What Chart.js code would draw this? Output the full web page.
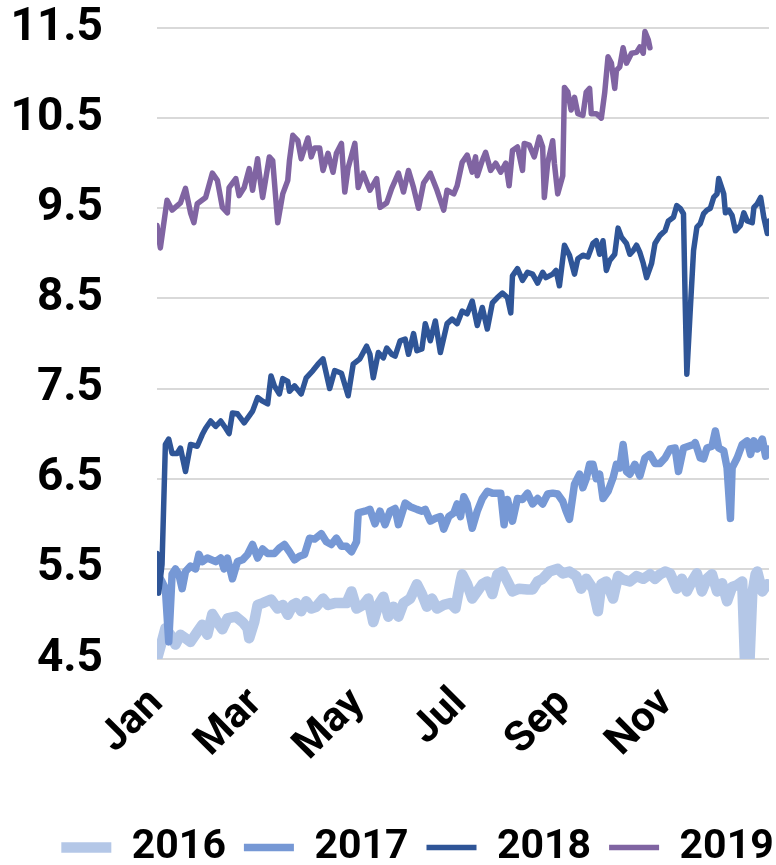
<!DOCTYPE html>
<html>
<head>
<meta charset="utf-8">
<script src="https://cdn.jsdelivr.net/npm/chart.js@4/dist/chart.umd.min.js"></script>
<style>
html,body{margin:0;padding:0;background:#fff;overflow:hidden;}
canvas{display:block;}
</style>
</head>
<body>
<canvas id="c" width="776" height="865"></canvas>
<script>
// ---- data (x = day of year, y = value) ----
const seriesLabels = ['2016', '2017', '2018', '2019'];
const seriesColors = ['#B4C7E7', '#7698D5', '#2F5597', '#8064A2'];

const tickDays = [0, 59, 120, 181, 243, 304];
const tickLabels = ['Jan', 'Mar', 'May', 'Jul', 'Sep', 'Nov'];

const days2016 = [0,3,5,8,11,14,17,20,24,27,30,33,36,39,42,47,51,54,55,58,60,63,68,72,75,78,81,83,86,89,92,95,99,102,106,110,113,116,119,123,126,129,132,135,138,141,144,147,151,155,158,161,164,167,171,175,178,181,182,185,188,191,194,197,200,203,206,209,212,216,221,224,227,230,234,239,242,246,250,253,256,260,263,265,268,272,275,278,282,286,290,294,297,300,303,306,310,313,316,319,322,325,328,331,334,337,340,343,346,349,351,353,355,357,358,361,364];
const vals2016 = [4.50,4.70,4.84,4.77,4.66,4.77,4.73,4.69,4.80,4.88,4.77,5.00,4.91,4.83,4.95,4.97,4.91,4.84,4.73,4.91,5.10,5.12,5.16,5.06,5.10,4.99,5.10,5.12,5.03,5.14,5.06,5.08,5.17,5.10,5.12,5.12,5.12,5.25,5.06,5.10,5.17,4.91,5.10,5.19,4.97,5.08,4.97,5.12,5.17,5.33,5.22,5.08,5.17,5.06,5.10,5.12,5.06,5.36,5.44,5.33,5.17,5.25,5.33,5.36,5.22,5.44,5.47,5.36,5.25,5.28,5.27,5.27,5.36,5.39,5.47,5.50,5.45,5.47,5.42,5.28,5.39,5.28,5.03,5.33,5.36,5.17,5.42,5.38,5.36,5.42,5.39,5.44,5.39,5.44,5.47,5.45,5.28,5.39,5.25,5.36,5.45,5.25,5.39,5.44,5.25,5.34,5.14,5.30,5.32,5.36,4.30,4.30,5.22,5.44,5.47,5.25,5.33];

const days2017 = [0,3,5,7,9,11,13,15,17,20,23,25,27,30,35,38,40,42,45,48,51,54,57,60,63,66,70,73,76,79,82,85,88,91,94,98,101,104,107,110,113,116,119,120,124,127,130,133,136,139,142,144,148,151,155,158,160,163,166,169,171,174,177,179,181,183,185,188,191,194,197,200,205,207,209,212,215,218,221,224,227,230,233,236,239,242,244,246,249,252,254,256,258,260,262,264,266,269,272,274,276,278,280,282,285,288,291,294,297,300,303,306,309,311,314,317,320,321,324,326,328,331,333,335,338,340,342,343,346,349,352,354,356,358,361,363,364];
const vals2017 = [5.45,5.36,5.28,4.69,5.44,5.50,5.44,5.28,5.47,5.53,5.50,5.66,5.58,5.62,5.58,5.62,5.50,5.62,5.39,5.58,5.60,5.66,5.77,5.62,5.72,5.67,5.67,5.73,5.77,5.69,5.60,5.64,5.66,5.84,5.83,5.89,5.80,5.77,5.84,5.75,5.75,5.69,5.80,6.12,6.14,6.16,6.00,6.14,5.99,6.14,6.17,5.99,6.23,6.19,6.16,6.14,6.16,6.03,6.06,6.08,5.94,6.08,6.12,6.22,6.08,6.30,6.22,5.95,6.14,6.28,6.36,6.34,6.34,5.99,6.27,6.03,6.28,6.27,6.34,6.22,6.28,6.22,6.33,6.34,6.33,6.25,6.14,6.05,6.44,6.55,6.40,6.50,6.66,6.66,6.50,6.55,6.28,6.36,6.51,6.66,6.62,6.88,6.58,6.55,6.66,6.53,6.73,6.77,6.67,6.67,6.73,6.83,6.84,6.58,6.84,6.86,6.88,6.90,6.73,6.72,6.84,6.86,7.03,6.84,6.81,6.62,6.06,6.62,6.73,6.88,6.92,6.77,6.92,6.83,6.94,6.75,6.83];

const days2018 = [0,1,3,5,7,9,12,14,17,20,24,27,29,32,35,38,41,43,45,48,52,57,60,63,66,68,70,73,75,78,79,82,86,89,93,96,99,103,106,110,114,117,121,125,127,129,132,135,137,140,142,145,148,150,153,155,158,160,163,166,169,173,176,179,182,185,188,191,194,197,200,203,206,209,211,212,215,218,221,224,227,230,232,236,238,240,243,246,249,251,254,257,260,262,264,266,268,270,273,275,277,280,282,284,286,288,290,292,295,297,300,303,305,308,310,312,314,315,316,318,320,322,324,326,328,330,332,334,335,338,339,341,343,345,348,350,352,355,356,358,360,362,364,365];
const vals2018 = [5.67,5.23,5.55,6.88,6.94,6.78,6.78,6.84,6.58,6.88,6.86,6.99,7.06,7.14,7.08,7.14,7.06,7.00,7.23,7.22,7.12,7.25,7.40,7.36,7.33,7.64,7.53,7.44,7.61,7.58,7.47,7.53,7.44,7.62,7.70,7.77,7.83,7.50,7.70,7.67,7.42,7.77,7.83,7.97,7.88,7.62,7.90,7.84,7.95,7.88,7.86,8.03,8.05,7.88,8.11,7.92,7.94,8.22,8.03,8.25,7.90,8.22,8.27,8.22,8.36,8.33,8.47,8.20,8.40,8.16,8.45,8.51,8.56,8.51,8.34,8.75,8.83,8.70,8.79,8.77,8.67,8.79,8.73,8.77,8.81,8.64,9.09,8.98,8.77,8.94,8.98,8.96,9.11,9.14,8.99,9.14,8.81,8.92,8.99,9.28,9.18,9.11,8.99,9.03,9.09,9.01,8.89,8.73,8.89,9.11,9.20,9.25,9.36,9.40,9.53,9.50,9.44,8.47,7.66,8.36,9.03,9.29,9.33,9.44,9.48,9.50,9.62,9.66,9.83,9.66,9.45,9.48,9.42,9.25,9.31,9.45,9.36,9.34,9.51,9.55,9.62,9.39,9.22,9.36];

const days2019 = [0,2,6,9,14,17,20,22,24,29,33,36,39,42,43,47,49,52,55,57,60,61,63,64,67,69,72,75,78,79,81,84,86,90,92,94,97,99,102,105,107,110,112,114,118,120,123,127,131,133,137,140,144,147,150,153,156,159,163,167,171,173,177,179,182,185,188,190,191,194,196,199,202,205,208,210,212,215,218,219,222,225,228,230,231,233,236,237,239,242,243,245,247,249,251,254,256,258,259,262,265,267,269,271,273,274,276,278,280,283,286,288,290,291,293,294];
const vals2019 = [9.31,9.06,9.59,9.48,9.56,9.72,9.45,9.34,9.55,9.62,9.89,9.81,9.51,9.45,9.73,9.83,9.64,9.73,9.94,9.70,10.05,9.89,9.62,9.73,10.07,10.03,9.34,9.66,9.81,10.03,10.31,10.25,10.05,10.28,10.07,10.17,10.17,9.92,10.11,9.90,10.11,10.22,9.68,9.95,10.22,9.73,9.89,9.70,9.83,9.51,9.56,9.72,9.89,9.68,9.92,9.73,9.50,9.78,9.89,9.70,9.48,9.70,9.66,9.75,10.01,10.09,9.90,10.07,9.86,10.03,10.12,9.92,10.00,9.90,10.00,9.75,10.14,10.18,9.92,10.22,10.20,10.07,10.29,10.18,9.62,10.00,10.25,10.00,9.66,9.86,10.84,10.79,10.59,10.73,10.55,10.53,10.79,10.83,10.55,10.55,10.50,10.78,11.18,11.11,10.83,11.03,11.07,11.28,11.11,11.22,11.23,11.29,11.22,11.46,11.37,11.28];

const yMin = 4.5, yMax = 11.5, yStep = 1;
const xMin = 0, xMax = 365;

// ---- build ----
const allDays = [days2016, days2017, days2018, days2019];
const allVals = [vals2016, vals2017, vals2018, vals2019];
const widths = [10.5, 7.5, 5.5, 5.5];

const datasets = seriesLabels.map((lab, i) => ({
  label: lab,
  data: allDays[i].map((d, k) => ({x: d, y: allVals[i][k]})),
  borderColor: seriesColors[i],
  backgroundColor: seriesColors[i],
  borderWidth: widths[i],
  borderCapStyle: 'round',
  borderJoinStyle: 'round',
  pointRadius: 0,
  pointHoverRadius: 0,
  pointStyle: 'line',
  tension: 0,
  fill: false,
  order: 3 - i
}));

Chart.defaults.font.family = 'Roboto';
Chart.defaults.font.weight = 'bold';
Chart.defaults.color = '#000';

const legendShift = {
  id: 'legendShift',
  afterLayout(chart) {
    if (chart.legend) { chart.legend.left += 33; chart.legend.right += 33; }
  }
};

new Chart(document.getElementById('c'), {
  type: 'line',
  data: { datasets },
  plugins: [legendShift],
  options: {
    responsive: false,
    animation: false,
    layout: { padding: { left: 0, top: 28, right: 7, bottom: -13 } },
    plugins: {
      tooltip: { enabled: false },
      legend: {
        position: 'bottom',
        align: 'center',
        labels: {
          usePointStyle: true,
          pointStyleWidth: 50,
          padding: 18,
          color: '#000',
          font: { family: 'Roboto', size: 41, weight: 'bold' },
          sort: (a, b) => a.datasetIndex - b.datasetIndex
        }
      }
    },
    scales: {
      x: {
        type: 'linear',
        min: xMin,
        max: xMax,
        afterBuildTicks: (axis) => { axis.ticks = tickDays.map(v => ({ value: v })); },
        afterFit: (scale) => { scale.height = 150; },
        grid: { display: false, drawTicks: false },
        border: { display: false },
        ticks: {
          autoSkip: false,
          minRotation: 45,
          maxRotation: 45,
          padding: 20,
          color: '#000',
          font: { family: 'Roboto', size: 42, weight: 'bold' },
          callback: (v) => { const i = tickDays.indexOf(v); return i >= 0 ? tickLabels[i] : ''; }
        }
      },
      y: {
        min: yMin,
        max: yMax,
        afterFit: (scale) => { scale.width = 157; scale.paddingTop = 0; scale.paddingBottom = 0; },
        grid: { color: '#D9D9D9', lineWidth: 2, drawTicks: false },
        border: { display: false },
        ticks: {
          stepSize: yStep,
          padding: 54,
          color: '#000',
          font: { family: 'Roboto', size: 46, weight: 'bold' },
          callback: (v) => Number(v).toFixed(1)
        }
      }
    }
  }
});
</script>
</body>
</html>
